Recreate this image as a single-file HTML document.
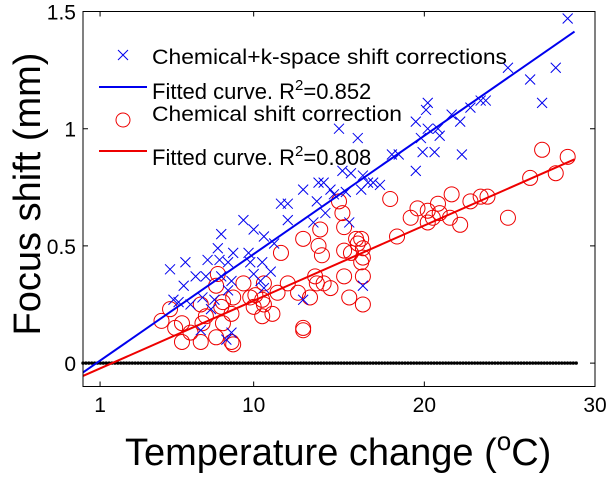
<!DOCTYPE html>
<html><head><meta charset="utf-8"><style>
body{margin:0;background:#fff;width:610px;height:481px;overflow:hidden}
text{font-family:"Liberation Sans",Arial,sans-serif}
</style></head><body>
<svg id="chart" width="610" height="481" xmlns="http://www.w3.org/2000/svg">
<g id="marks"></g>
<rect x="83" y="11.5" width="512" height="375" fill="none" stroke="#000" stroke-width="1"/>
<g id="axes"></g>
<g font-size="21">
  <text x="152" y="64" textLength="355" lengthAdjust="spacingAndGlyphs">Chemical+k-space shift corrections</text>
  <text x="152" y="99" font-size="22">Fitted curve. R<tspan dy="-9" font-size="15">2</tspan><tspan dy="9">=0.852</tspan></text>
  <text x="152" y="121" textLength="250" lengthAdjust="spacingAndGlyphs">Chemical shift correction</text>
  <text x="152" y="165" font-size="22">Fitted curve. R<tspan dy="-9" font-size="15">2</tspan><tspan dy="9">=0.808</tspan></text>
  <path d="M118,50 L128,60 M128,50 L118,60" stroke="#0000ee" stroke-width="1"/>
  <line x1="99" y1="87" x2="147" y2="87" stroke="#0000ee" stroke-width="2"/>
  <circle cx="123" cy="120" r="7" fill="none" stroke="#ee0000" stroke-width="1"/>
  <line x1="99" y1="151" x2="147" y2="151" stroke="#ee0000" stroke-width="2"/>
</g>
<text transform="translate(40,194) rotate(-90)" text-anchor="middle" font-size="38">Focus shift (mm)</text>
<text x="125" y="465" font-size="38">Temperature change (<tspan dy="-15" font-size="26">o</tspan><tspan dy="15">C)</tspan></text>
</svg>
<script>
const blueX=[28.4,24.9,27.7,26.2,26.9,23.6,23.3,22.7,22.1,21.6,20.2,20.1,20.2,20.8,20.9,19.8,19.5,22.2,20.6,19.9,19.5,18.1,18.5,16.1,15.0,15.2,15.7,16.4,16.7,17.0,17.4,13.8,14.1,12.9,14.7,15.4,16.3,13.7,14.2,15.6,13.5,14.5,11.6,12.0,12.0,9.4,8.1,10.0,10.6,11.2,7.9,8.8,9.7,7.3,8.0,8.5,9.8,10.5,7.2,8.1,10.0,11.0,8.7,10.4,5.9,10.6,8.5,5.3,5.6,6.3,7.0,7.7,12.9,16.4,6.9,8.7,5.1,6.0,6.6,7.5,8.4];
const blueY=[1.47,1.26,1.26,1.21,1.11,1.12,1.12,1.09,1.03,1.06,1.11,1.08,1.00,1.00,0.97,0.96,1.03,0.89,0.90,0.90,0.82,0.89,0.89,0.96,1.00,0.82,0.81,0.80,0.77,0.77,0.76,0.77,0.77,0.74,0.72,0.73,0.74,0.69,0.64,0.60,0.60,0.74,0.68,0.68,0.61,0.61,0.55,0.57,0.54,0.51,0.49,0.47,0.47,0.44,0.44,0.43,0.43,0.43,0.37,0.37,0.38,0.39,0.35,0.35,0.33,0.32,0.31,0.27,0.26,0.25,0.28,0.27,0.27,0.33,0.14,0.13,0.40,0.43,0.37,0.23,0.10];
const redX=[26.9,28.4,27.7,26.2,24.9,23.3,23.7,22.7,21.6,20.8,20.2,19.6,19.2,18.0,20.2,20.5,21.5,22.1,20.9,18.4,15.0,15.2,15.3,13.9,16.0,16.3,12.9,13.8,14.0,11.6,15.3,15.7,16.1,16.4,16.4,16.3,15.3,16.4,13.6,14.1,14.5,13.7,12.0,12.6,13.3,15.6,16.4,11.4,10.6,9.4,9.8,10.1,10.5,10.0,10.6,10.5,11.1,7.9,7.8,8.8,8.2,8.7,8.1,8.2,7.2,7.0,6.9,5.8,5.4,6.3,5.8,6.9,7.8,8.7,8.8,12.9,12.9,5.1,4.6];
const redY=[0.91,0.88,0.81,0.79,0.62,0.71,0.71,0.69,0.72,0.68,0.65,0.66,0.62,0.70,0.60,0.62,0.62,0.59,0.64,0.54,0.69,0.64,0.58,0.57,0.53,0.53,0.53,0.50,0.46,0.47,0.48,0.47,0.51,0.49,0.45,0.43,0.37,0.37,0.37,0.34,0.32,0.34,0.34,0.30,0.28,0.28,0.25,0.30,0.34,0.34,0.28,0.29,0.27,0.24,0.25,0.20,0.21,0.38,0.33,0.28,0.26,0.21,0.24,0.17,0.20,0.17,0.25,0.17,0.15,0.13,0.09,0.09,0.11,0.09,0.08,0.15,0.14,0.23,0.18];
const blueFit=[-0.04,0.0505]; // intercept, slope
const redFit=[-0.055,0.0321];
const fitRange=[0,28.8];
const xTicks=[1,10,20,30];
const yTicks=[0,0.5,1,1.5];
const yTickLabels=["0","0.5","1","1.5"];

const NS="http://www.w3.org/2000/svg";
const X0=83,X1=595,Y0=386.5,Y1=11.5,xmin=0,xmax=30,ymin=-0.1,ymax=1.5;
function sx(v){return X0+(v-xmin)/(xmax-xmin)*(X1-X0);}
function sy(v){return Y0-(v-ymin)/(ymax-ymin)*(Y0-Y1);}
function mk(tag,attrs,parent){const e=document.createElementNS(NS,tag);for(const k in attrs)e.setAttribute(k,attrs[k]);parent.appendChild(e);return e;}
const marks=document.getElementById('marks'),axes=document.getElementById('axes');

for(let v=0;v<=29;v+=0.17){
  const d=mk('circle',{cx:sx(v),cy:sy(0),r:1.7,fill:'#000'},marks);
  
  
}
for(let i=0;i<redX.length;i++){
  const c=mk('circle',{cx:sx(redX[i]),cy:sy(redY[i]),r:7.5,fill:'none',stroke:'#ee0000','stroke-width':1},marks);
  
  
}
for(let i=0;i<blueX.length;i++){
  const x=sx(blueX[i]),y=sy(blueY[i]);
  const p=mk('path',{d:`M${x-5},${y-5}L${x+5},${y+5}M${x+5},${y-5}L${x-5},${y+5}`,stroke:'#0000ee','stroke-width':1},marks);
  
  
}
[[blueFit,'#0000ee','blue-fit-line'],[redFit,'#ee0000','red-fit-line']].forEach(([f,col,name])=>{
  const l=mk('line',{x1:sx(fitRange[0]),y1:sy(f[0]+f[1]*fitRange[0]),x2:sx(fitRange[1]),y2:sy(f[0]+f[1]*fitRange[1]),stroke:col,'stroke-width':2},marks);
  
  
});
xTicks.forEach(v=>{
  const x=sx(v);
  const t=mk('path',{d:`M${x},${Y0}v-5M${x},${Y1}v5`,stroke:'#000'},axes);
  
  
  const tx=mk('text',{x:x,y:412,'text-anchor':'middle','font-size':21},axes);
  tx.textContent=String(v);
  
  
});
yTicks.forEach((v,i)=>{
  const y=sy(v);
  const t=mk('path',{d:`M${X0},${y}h5M${X1},${y}h-5`,stroke:'#000'},axes);
  
  
  const tx=mk('text',{x:76,y:y+8,'text-anchor':'end','font-size':21},axes);
  tx.textContent=yTickLabels[i];
  
  
});
</script>
</body></html>
